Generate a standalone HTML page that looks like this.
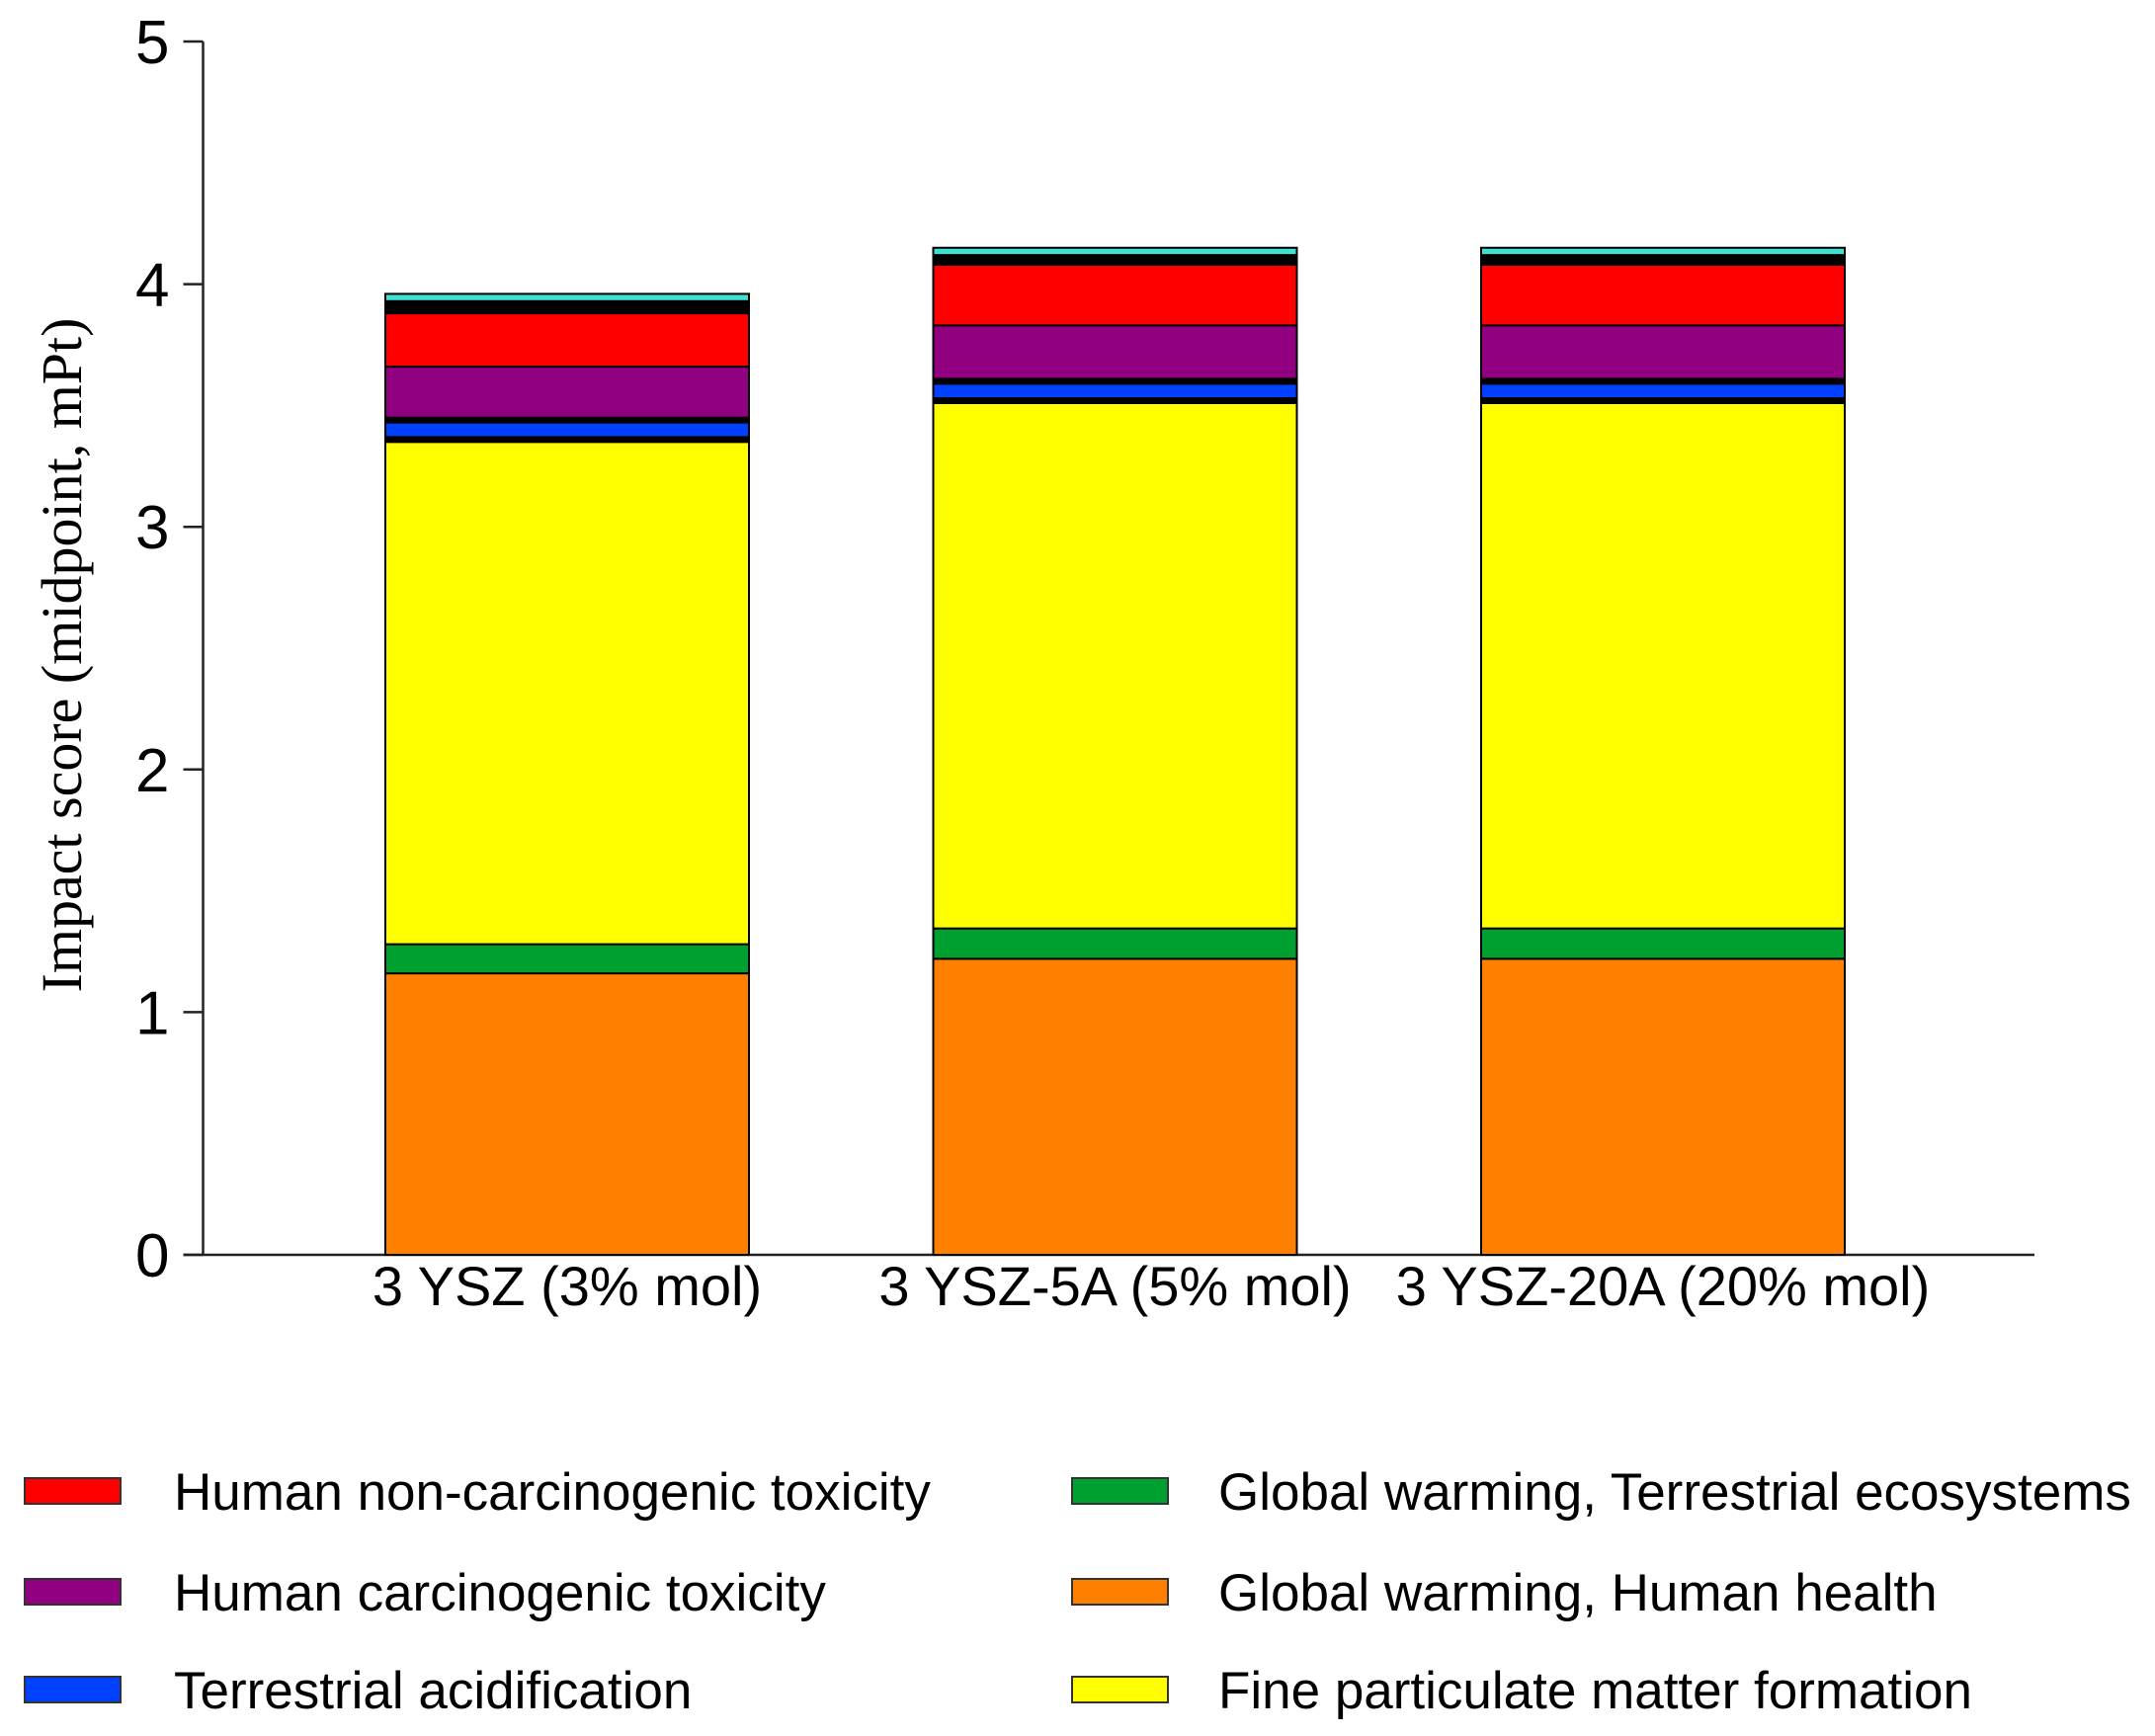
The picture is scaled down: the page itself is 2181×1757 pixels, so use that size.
<!DOCTYPE html>
<html><head><meta charset="utf-8"><style>
html,body{margin:0;padding:0;background:#fff;}
svg{display:block;font-family:"Liberation Sans",Arial,sans-serif;}
</style></head><body>
<svg id="chart" width="2181" height="1757" viewBox="0 0 2181 1757" xmlns="http://www.w3.org/2000/svg">
<g id="axes"></g>
<g id="bars"></g>
<text transform="translate(82,663) rotate(-90)" text-anchor="middle" font-family="Liberation Serif, serif" font-size="58">Impact score (midpoint, mPt)</text>
<g id="legend"></g>
</svg>
<script>
const categories = ["3 YSZ (3% mol)", "3 YSZ-5A (5% mol)", "3 YSZ-20A (20% mol)"];
const seriesNames = ["Global warming, Human health","Global warming, Terrestrial ecosystems","Fine particulate matter formation","Other A","Terrestrial acidification","Other B","Human carcinogenic toxicity","Human non-carcinogenic toxicity","Other C","Other D"];
const seriesColors = ["#ff8000","#00a030","#ffff00","#000000","#0040ff","#000000","#900080","#ff0000","#000000","#40e0d0"];
const gwHuman = [1.16, 1.22, 1.22];
const gwTerr = [0.12, 0.125, 0.125];
const finePM = [2.07, 2.165, 2.165];
const otherA = [0.02, 0.02, 0.02];
const terrAcid = [0.06, 0.06, 0.06];
const otherB = [0.02, 0.02, 0.02];
const humanCarc = [0.21, 0.22, 0.22];
const humanNonCarc = [0.22, 0.25, 0.25];
const otherC = [0.05, 0.04, 0.04];
const otherD = [0.03, 0.03, 0.03];
const yTicks = [0,1,2,3,4,5];
const legendOrder = [7,1,6,0,4,2];

const seriesValues = [gwHuman,gwTerr,finePM,otherA,terrAcid,otherB,humanCarc,humanNonCarc,otherC,otherD];
const NS="http://www.w3.org/2000/svg";
const X0=205.5, X1=2059, Y0=1270, Y5=42;
const y = v => Y0 - (Y0-Y5)*v/5;
const barCenters0=574, barStep=554.5, barW=368;
const xc = i => barCenters0 + i*barStep;
function mk(tag, attrs, parent){const e=document.createElementNS(NS,tag);for(const k in attrs)e.setAttribute(k,attrs[k]);parent.appendChild(e);return e;}
const axes=document.getElementById('axes');
const yAxis=mk('line',{x1:X0,y1:Y5,x2:X0,y2:Y0,stroke:'#222','stroke-width':2.5},axes);


const xAxis=mk('line',{x1:X0-20,y1:Y0,x2:X1,y2:Y0,stroke:'#222','stroke-width':2.5},axes);


yTicks.forEach(t=>{
  const tk=mk('line',{x1:X0-20,y1:y(t),x2:X0,y2:y(t),stroke:'#222','stroke-width':2.5},axes);
  
  
  const lb=mk('text',{x:X0-34,y:y(t)+22,'text-anchor':'end','font-size':62},axes);
  
  
  lb.textContent=t;
});
const bars=document.getElementById('bars');
categories.forEach((c,i)=>{
  let base=0;
  seriesValues.forEach((s,k)=>{
    const v=s[i];
    const r=mk('rect',{x:xc(i)-barW/2,y:y(base+v),width:barW,height:y(base)-y(base+v),fill:seriesColors[k],stroke:'#000','stroke-width':2},bars);
    
    
    base+=v;
  });
  const lb=mk('text',{x:xc(i),y:1321,'text-anchor':'middle','font-size':56},axes);
  
  
  lb.textContent=c;
});
const legend=document.getElementById('legend');
legendOrder.forEach((k,j)=>{
  const col=j%2, row=Math.floor(j/2);
  const sx=col?1085:25, ty=[1509,1611,1710][row];
  const sw=mk('rect',{x:sx,y:ty-13,width:97,height:26,fill:seriesColors[k],stroke:'#333','stroke-width':2},legend);
  
  
  const t=mk('text',{x:col?1233:176,y:ty+19,'font-size':53},legend);
  
  
  t.textContent=seriesNames[k];
});
</script>
</body></html>
